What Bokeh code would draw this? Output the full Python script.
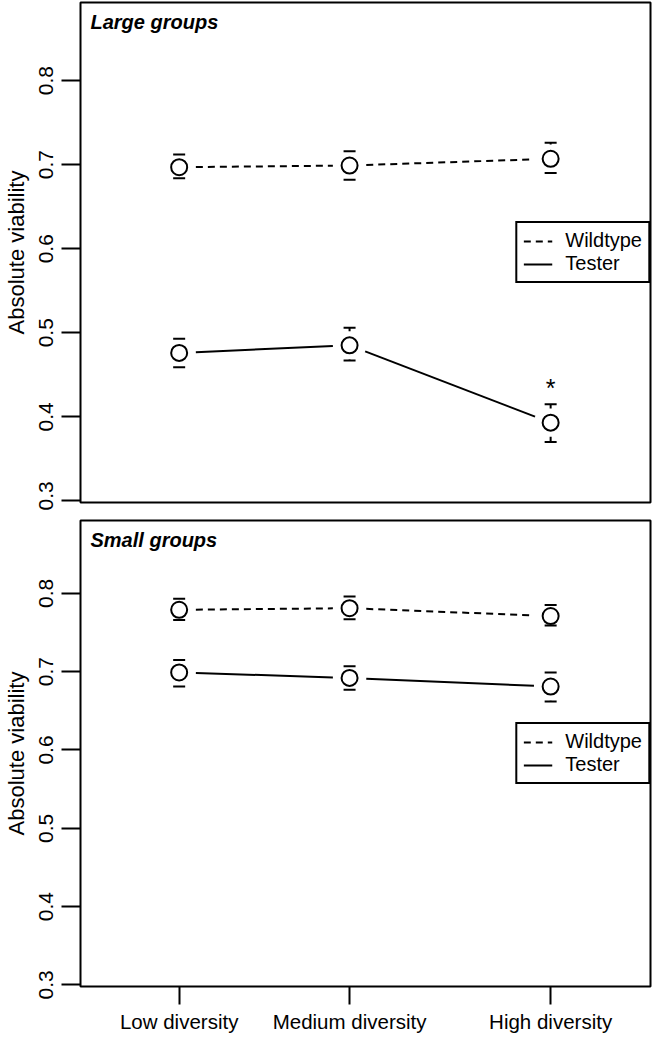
import numpy as np
from bokeh.plotting import figure
from bokeh.models import FixedTicker, Legend, LegendItem, Label, Range1d
from bokeh.layouts import column
from bokeh.embed import file_html
from bokeh.resources import INLINE
from bokeh.core.properties import value

# ---------------- data ----------------
categories = ["Low diversity", "Medium diversity", "High diversity"]
x_pos = [1.0, 2.0, 3.18]

large_wild = [0.697, 0.699, 0.707]
large_wild_up = [0.712, 0.716, 0.726]
large_wild_lo = [0.684, 0.682, 0.690]
large_test = [0.476, 0.485, 0.393]
large_test_up = [0.493, 0.506, 0.415]
large_test_lo = [0.459, 0.467, 0.370]

small_wild = [0.779, 0.781, 0.771]
small_wild_up = [0.793, 0.796, 0.785]
small_wild_lo = [0.766, 0.767, 0.759]
small_test = [0.699, 0.692, 0.681]
small_test_up = [0.715, 0.707, 0.699]
small_test_lo = [0.681, 0.677, 0.662]

y_ticks = [0.3, 0.4, 0.5, 0.6, 0.7, 0.8]
star_index = 2
star_y = 0.439

# ---------------- style ----------------
FONT = "Liberation Sans"
XMIN, XMAX = 0.421, 3.766
YMIN, YMAX = 0.298, 0.893
FW = 570
LINE_GAP = 16.7   # px gap between connecting line and point centre
STUB_GAP = 14.2   # px gap between error stub and point centre


def shorten(xs, ys, sx, sy, gap):
    xs = np.asarray(xs, float)
    ys = np.asarray(ys, float)
    x0, x1 = xs[:-1], xs[1:]
    y0, y1 = ys[:-1], ys[1:]
    dxp = (x1 - x0) * sx
    dyp = (y1 - y0) * sy
    L = np.hypot(dxp, dyp)
    ux, uy = dxp / L, dyp / L
    return (x0 + ux * gap / sx, y0 + uy * gap / sy,
            x1 - ux * gap / sx, y1 - uy * gap / sy)


def make_panel(title, wild, wild_up, wild_lo, test, test_up, test_lo,
               fh, show_x, border_top, border_bottom, star=False):
    p = figure(frame_width=FW, frame_height=fh,
               x_range=Range1d(XMIN, XMAX), y_range=Range1d(YMIN, YMAX),
               output_backend="svg", toolbar_location=None,
               x_axis_location="below" if show_x else None,
               min_border_left=78, min_border_right=3,
               min_border_top=border_top, min_border_bottom=border_bottom)
    p.grid.visible = False
    p.outline_line_color = "black"
    p.outline_line_alpha = 1
    p.outline_line_width = 2
    p.background_fill_color = "white"

    sx = FW / (XMAX - XMIN)
    sy = fh / (YMAX - YMIN)

    ya = p.yaxis[0]
    ya.ticker = FixedTicker(ticks=y_ticks)
    ya.major_label_orientation = "vertical"
    ya.major_tick_out = 19
    ya.major_tick_in = 0
    ya.minor_tick_out = 0
    ya.minor_tick_in = 0
    ya.major_tick_line_width = 2
    ya.major_tick_line_color = "black"
    ya.axis_line_color = None
    ya.major_label_standoff = 8
    ya.major_label_text_font = FONT
    ya.major_label_text_font_size = "21px"
    ya.major_label_text_color = "black"
    ya.axis_label = "Absolute viability"
    ya.axis_label_text_font = FONT
    ya.axis_label_text_font_size = "22px"
    ya.axis_label_text_font_style = "normal"
    ya.axis_label_text_color = "black"
    ya.axis_label_standoff = 8

    if show_x:
        xa = p.xaxis[0]
        xa.ticker = FixedTicker(ticks=x_pos)
        xa.major_label_overrides = {x: c for x, c in zip(x_pos, categories)}
        xa.major_tick_out = 18
        xa.major_tick_in = 0
        xa.minor_tick_out = 0
        xa.minor_tick_in = 0
        xa.major_tick_line_width = 2
        xa.major_tick_line_color = "black"
        xa.axis_line_color = None
        xa.major_label_standoff = 5
        xa.major_label_text_font = FONT
        xa.major_label_text_font_size = "20.5px"
        xa.major_label_text_color = "black"

    renderers = {}
    for name, ys, up, lo, dash in [("Wildtype", wild, wild_up, wild_lo, "7 5"),
                                   ("Tester", test, test_up, test_lo, "solid")]:
        ys_a = np.asarray(ys, float)
        up_a = np.asarray(up, float)
        lo_a = np.asarray(lo, float)
        x0, y0, x1, y1 = shorten(x_pos, ys_a, sx, sy, LINE_GAP)
        renderers[name] = p.segment(x0=x0, y0=y0, x1=x1, y1=y1, line_color="black",
                                    line_width=2, line_dash=dash)
        # error bars with a gap around the point
        g = STUB_GAP / sy
        top_start = np.minimum(ys_a + g, up_a)
        bot_end = np.maximum(ys_a - g, lo_a)
        p.segment(x0=x_pos, y0=top_start, x1=x_pos, y1=up_a,
                  line_color="black", line_width=2)
        p.segment(x0=x_pos, y0=lo_a, x1=x_pos, y1=bot_end,
                  line_color="black", line_width=2)
        p.scatter(x=x_pos, y=up_a, marker="dash", size=12,
                  line_color="black", line_width=2)
        p.scatter(x=x_pos, y=lo_a, marker="dash", size=12,
                  line_color="black", line_width=2)
        p.scatter(x=x_pos, y=ys_a, marker="circle", size=16,
                  line_color="black", line_width=2, fill_color=None)

    legend = Legend(items=[LegendItem(label="Wildtype", renderers=[renderers["Wildtype"]]),
                           LegendItem(label="Tester", renderers=[renderers["Tester"]])],
                    location="right", margin=0, padding=6, spacing=0,
                    glyph_width=29, glyph_height=18, label_height=18,
                    label_standoff=13,
                    label_text_font=FONT, label_text_font_size="20px",
                    label_text_color="black",
                    border_line_color="black", border_line_alpha=1,
                    border_line_width=2,
                    background_fill_color="white", background_fill_alpha=1)
    p.add_layout(legend)

    p.add_layout(Label(x=XMIN + 10 / sx, y=YMAX - 8 / sy, text=title,
                       text_baseline="top", text_align="left",
                       text_font=FONT, text_font_size="20px",
                       text_font_style="bold italic", text_color="black"))

    if star:
        p.text(x=[x_pos[star_index]], y=[star_y], text=["*"],
               text_align="center", text_baseline="middle",
               text_font=value(FONT), text_font_size="25px",
               text_color="black", y_offset=4)
    return p


p1 = make_panel("Large groups", large_wild, large_wild_up, large_wild_lo,
                large_test, large_test_up, large_test_lo,
                fh=500, show_x=False, border_top=2, border_bottom=8, star=True)
p2 = make_panel("Small groups", small_wild, small_wild_up, small_wild_lo,
                small_test, small_test_up, small_test_lo,
                fh=466, show_x=True, border_top=10, border_bottom=48)

layout = column(p1, p2)
open("out.html", "w").write(file_html(layout, INLINE))
